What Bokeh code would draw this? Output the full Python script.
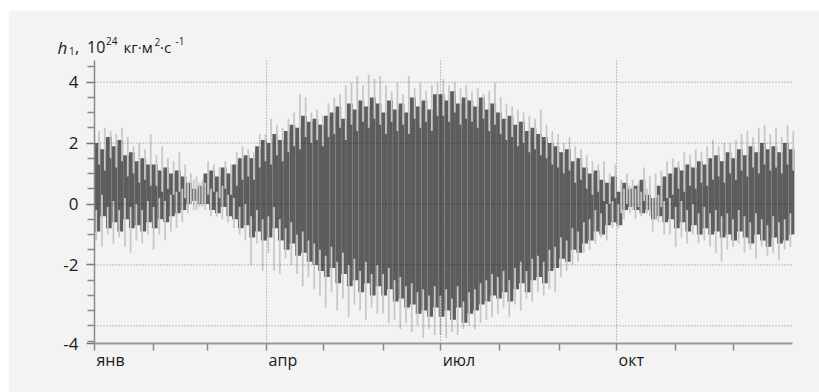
import numpy as np
from bokeh.plotting import figure
from bokeh.models import FixedTicker, Label
from bokeh.embed import file_html
from bokeh.resources import INLINE

# ---- data: sample every 3 days (day of year), h1 in 1e24 kg m^2 s^-1 ----
dark_hi = [2.0, 1.8, 2.2, 1.9, 2.1, 1.6, 1.7, 1.4, 1.5, 1.3,
           1.3, 1.1, 1.2, 1.0, 1.1, 0.9, 0.7, 0.5, 0.6, 1.0,
           1.1, 0.9, 1.2, 1.0, 1.3, 1.5, 1.6, 1.5, 1.9, 2.1,
           2.0, 2.3, 2.1, 2.4, 2.6, 2.5, 2.9, 2.7, 2.8, 2.6,
           2.9, 3.0, 3.2, 2.8, 3.3, 3.1, 3.4, 3.2, 3.5, 3.3,
           3.0, 3.4, 3.1, 3.3, 3.0, 3.5, 3.2, 3.4, 3.1, 3.6,
           3.6, 3.4, 3.7, 3.3, 3.5, 3.4, 3.2, 3.5, 3.1, 3.3,
           3.0, 2.8, 2.9, 2.6, 2.7, 2.4, 2.5, 2.3, 2.2, 2.0,
           1.9, 1.7, 1.8, 1.4, 1.5, 1.2, 1.0, 1.1, 0.8, 0.7,
           0.9, 0.4, 0.7, 0.5, 0.6, 0.8, 0.3, 0.2, 0.6, 0.9,
           1.0, 1.2, 1.1, 1.3, 1.2, 1.4, 1.3, 1.5, 1.6, 1.4,
           1.7, 1.5, 1.8, 1.6, 1.9, 1.7, 2.0, 1.8, 1.9, 1.7, 2.0, 1.8]
dark_lo = [-0.9, -0.4, -0.8, -0.6, -0.9, -0.5, -0.8, -0.7, -0.9, -0.6,
           -0.8, -0.5, -0.6, -0.4, -0.3, -0.2, 0.0, 0.1, 0.0, 0.0,
           -0.2, -0.3, -0.1, -0.4, -0.5, -0.8, -0.7, -1.1, -0.9, -1.2,
           -1.1, -0.8, -1.2, -1.5, -1.3, -1.7, -1.6, -1.9, -2.0, -2.2,
           -2.4, -2.1, -2.6, -2.3, -2.7, -2.5, -2.9, -2.6, -3.0, -2.7,
           -3.0, -2.8, -3.2, -3.1, -3.4, -3.3, -3.6, -3.5, -3.7, -3.4,
           -3.7, -3.5, -3.8, -3.4, -3.9, -3.6, -3.5, -3.3, -3.2, -3.0,
           -3.1, -2.9, -3.2, -2.8, -2.6, -2.9, -2.5, -2.4, -2.6, -2.2,
           -2.1, -1.8, -1.9, -1.5, -1.6, -1.3, -1.2, -0.9, -1.0, -0.7,
           -0.6, -0.7, -0.2, -0.1, -0.2, -0.3, -0.2, -0.5, -0.4, -0.6,
           -0.5, -0.8, -0.6, -0.9, -0.7, -1.0, -0.8, -1.0, -0.9, -1.1,
           -1.0, -1.2, -0.9, -1.1, -1.3, -1.0, -1.2, -1.4, -1.1, -1.3, -1.2, -1.0]
spike_hi = [2.4, 2.5, 2.4, 2.3, 2.5, 2.2, 1.9, 2.0, 1.8, 2.3,
            1.6, 1.9, 1.5, 1.4, 1.7, 1.3, 1.0, 0.9, 0.8, 1.4,
            1.3, 1.2, 1.4, 1.3, 1.7, 1.9, 1.8, 1.7, 2.3, 2.3,
            2.8, 2.6, 2.5, 2.8, 3.0, 3.6, 3.5, 3.0, 3.1, 2.9,
            3.3, 3.5, 3.6, 3.9, 4.0, 4.2, 3.9, 4.25, 4.1, 4.2,
            3.9, 3.7, 4.0, 3.6, 4.2, 3.8, 4.0, 3.7, 3.9, 4.0,
            4.1, 3.9, 4.0, 3.8, 3.9, 3.7, 3.8, 3.6, 3.7, 4.0,
            3.5, 3.3, 3.2, 3.1, 3.0, 2.9, 2.8, 3.1, 2.6, 2.4,
            2.3, 2.0, 2.2, 1.9, 1.8, 1.6, 1.4, 1.3, 1.4, 1.0,
            1.3, 0.8, 1.0, 0.8, 0.7, 1.2, 0.9, 1.0, 1.1, 1.4,
            1.5, 1.4, 1.7, 1.6, 1.8, 1.7, 1.9, 2.1, 1.9, 2.0,
            2.0, 2.1, 2.3, 2.4, 2.2, 2.5, 2.6, 2.3, 2.5, 2.2, 2.6, 2.4]
spike_lo = [-1.2, -1.4, -1.0, -1.3, -1.1, -1.4, -1.6, -1.2, -1.3, -1.0,
            -1.5, -1.0, -1.2, -0.9, -0.8, -0.6, -0.3, -0.2, -0.1, -0.2,
            -0.4, -0.4, -0.5, -0.6, -0.8, -1.0, -1.2, -2.0, -1.3, -2.2,
            -1.6, -2.2, -2.3, -1.8, -2.0, -2.3, -2.7, -2.4, -2.8, -3.0,
            -3.4, -2.9, -3.5, -3.1, -3.7, -3.3, -3.5, -3.8, -3.4, -3.6,
            -3.6, -3.9, -3.8, -4.1, -3.9, -4.2, -4.0, -4.4, -4.1, -4.3,
            -4.3, -4.4, -4.2, -4.3, -4.1, -4.0, -4.1, -3.9, -3.8, -3.7,
            -3.6, -3.4, -3.7, -3.3, -3.5, -3.1, -3.2, -2.9, -3.0, -2.8,
            -2.9, -2.4, -2.2, -2.0, -1.9, -1.6, -1.5, -1.3, -1.1, -1.2,
            -0.8, -0.8, -0.5, -0.3, -0.5, -0.4, -0.3, -0.9, -0.6, -1.0,
            -1.0, -1.4, -1.1, -1.3, -1.0, -1.3, -1.2, -1.4, -1.6, -1.9,
            -1.5, -1.4, -1.3, -1.6, -1.5, -1.8, -1.4, -1.7, -1.6, -1.85, -1.5, -1.4]
day = np.arange(len(dark_hi)) * 3 + 1.5

month_ticks = [0, 31, 59, 90, 120, 151, 181, 212, 243, 273, 304, 334]
month_label_days = [0, 90, 181, 273]
month_label_text = ["янв", "апр", "июл", "окт"]
y_major = [4, 2, 0, -2, -4.58]
y_major_text = ["4", "2", "0", "-2", "-4"]
y_minor = [4.5, 3.5, 3, 2.5, 1.5, 1, 0.5, -0.5, -1, -1.5, -2.5, -3, -3.5, -4, -4.5]
y_grid = [4, 2, 0, -2, -4]
x_grid = [90, 181, 273]
X_END, Y_BOT, Y_TOP = 365, -4.58, 4.71

FONT = "Open Sans"
BG = "#f3f3f3"

# frame covers page x 40..811, y 20..388 ; day 0 at page x 94, value 0 at page y 203.5
PX_PER_DAY = 698 / 365
PX_PER_UNIT = 30.46
def dx(X):
    return (X - 94) / PX_PER_DAY
def dy(Y):
    return (203.5 - Y) / PX_PER_UNIT

p = figure(width=811, height=382, frame_width=771, frame_height=368,
           x_range=(dx(40), dx(811)), y_range=(dy(388), dy(20)),
           output_backend="svg", toolbar_location=None,
           min_border_left=32, min_border_right=8, min_border_top=10, min_border_bottom=4,
           margin=(10, 0, 0, 8))
p.background_fill_color = BG
p.border_fill_color = BG
p.outline_line_color = None
p.xgrid.visible = False
p.ygrid.visible = False

p.vbar(x=day, width=3.0, top=dark_hi, bottom=dark_lo, fill_color="#5d5d5d", line_color=None)
inner_hi = [h - 0.7 for h in dark_hi]
inner_lo = [l + 0.7 for l in dark_lo]
p.segment(x0=day + 0.9, y0=spike_hi, x1=day + 0.9, y1=inner_hi, line_color="#c8c8c8", line_width=1.8)
p.segment(x0=day - 0.6, y0=spike_lo, x1=day - 0.6, y1=inner_lo, line_color="#c8c8c8", line_width=1.8)

# dotted grid lines, limited to the axes' extent
p.segment(x0=[0] * len(y_grid), y0=y_grid, x1=[X_END] * len(y_grid), y1=y_grid,
          line_color="black", line_alpha=0.45, line_dash="1 2", line_width=1)
p.segment(x0=x_grid, y0=[Y_BOT] * len(x_grid), x1=x_grid, y1=[Y_TOP] * len(x_grid),
          line_color="black", line_alpha=0.45, line_dash="1 2", line_width=1)

xa = p.xaxis[0]
xa.fixed_location = Y_BOT
xa.bounds = (0, X_END)
xa.ticker = FixedTicker(ticks=month_ticks)
xa.major_label_text_font_size = "0px"
xa.major_label_overrides = {t: "" for t in month_ticks}
xa.major_tick_out = 7
xa.major_tick_in = 0
xa.minor_tick_out = 0
xa.minor_tick_in = 0
xa.axis_line_color = "#999999"
xa.axis_line_width = 2
xa.major_tick_line_color = "#888888"
xa.major_tick_line_width = 1.5

ya = p.yaxis[0]
ya.fixed_location = 0
ya.bounds = (Y_BOT, Y_TOP)
ya.ticker = FixedTicker(ticks=y_major, minor_ticks=y_minor)
ya.major_label_text_font_size = "0px"
ya.major_label_overrides = {t: "" for t in y_major}
ya.major_tick_out = 8
ya.major_tick_in = 0
ya.minor_tick_out = 7
ya.minor_tick_in = 0
ya.axis_line_color = "#8a8a8a"
ya.axis_line_width = 1.5
ya.major_tick_line_color = "#777777"
ya.major_tick_line_width = 1.5
ya.minor_tick_line_color = "#888888"
ya.minor_tick_line_width = 1.5

# y tick labels, right-aligned left of the ticks
for v, txt in zip(y_major, y_major_text):
    p.add_layout(Label(x=0, y=v, x_offset=-16, text=txt, text_font=FONT,
                       text_font_size="17px", text_color="#1a1a1a",
                       text_align="right", text_baseline="middle"))

# month names, left-aligned at their ticks
for d, txt in zip(month_label_days, month_label_text):
    p.add_layout(Label(x=d, y=dy(359.5), x_offset=2, text=txt, text_font=FONT,
                       text_font_size="16px", text_color="#1a1a1a",
                       text_align="left", text_baseline="alphabetic"))

# axis title pieces: (text, page x, baseline page y, size, style)
pieces = [
    ("h", 57, 46.7, "17px", "italic"),
    ("1", 68.5, 50, "10px", "normal"),
    (",", 74.5, 46.7, "16px", "normal"),
    ("10", 86.5, 46.7, "16px", "normal"),
    ("24", 105.5, 40, "10px", "normal"),
    ("кг·м", 123, 46.7, "15px", "normal"),
    ("2", 154, 41.5, "10px", "normal"),
    ("·с", 159.5, 46.7, "15px", "normal"),
    ("-1", 175, 40.5, "10px", "normal"),
]
for txt, X, Y, size, style in pieces:
    p.add_layout(Label(x=dx(X), y=dy(Y), text=txt, text_font=FONT, text_font_size=size,
                       text_font_style=style, text_color="#1a1a1a", text_baseline="alphabetic"))

open("out.html", "w").write(file_html(p, INLINE))
